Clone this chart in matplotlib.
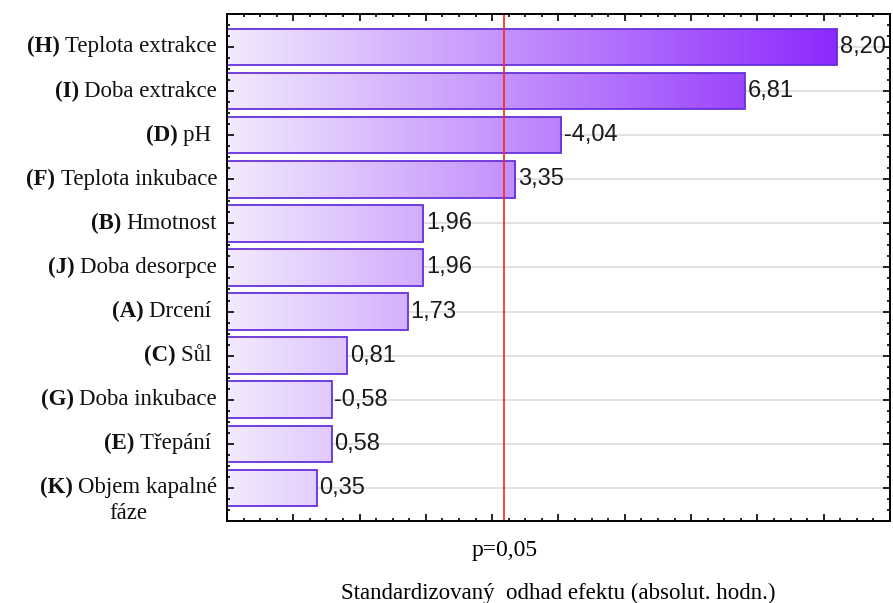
import numpy as np
import matplotlib
matplotlib.use("Agg")
import matplotlib.pyplot as plt
from matplotlib.colors import LinearSegmentedColormap
from matplotlib.ticker import MultipleLocator, NullFormatter
from matplotlib.transforms import Bbox, blended_transform_factory

# Paretův graf standardizovaných efektů
codes = ["(H)", "(I)", "(D)", "(F)", "(B)", "(J)", "(A)", "(C)", "(G)", "(E)", "(K)"]
names = ["Teplota extrakce", "Doba extrakce", "pH ", "Teplota inkubace", "Hmotnost",
         "Doba desorpce", "Drcení ", "Sůl ", "Doba inkubace", "Třepání ", "Objem kapalné"]
name_extra = {"(K)": "fáze"}
effects = [8.20, 6.81, -4.04, 3.35, 1.96, 1.96, 1.73, 0.81, -0.58, 0.58, 0.35]
p_crit = 3.182
p_label = "p=0,05"
xlabel = "Standardizovaný  odhad efektu (absolut. hodn.)"

x0, x1 = -1, 9
serif = ["Liberation Serif", "DejaVu Serif"]
sans = ["Liberation Sans", "DejaVu Sans"]
fs = 16.5

fig = plt.figure(figsize=(8.93, 6.03), dpi=100)
ax = fig.add_axes([0.2542, 0.136, 0.9966 - 0.2542, 0.841])
ax.set_axisbelow(False)

y = np.arange(len(effects))
vals = np.abs(effects)

# vodorovná mřížka za sloupci
for yy in y:
    ax.axhline(yy, color="#dcdcdc", lw=1.2, zorder=0.5)

cmap = LinearSegmentedColormap.from_list("fialova", ["#f2eafe", "#8418fc"])
grad = np.linspace(0, 1, 256).reshape(1, -1)

bars = ax.barh(y, vals - x0, left=x0, height=0.83, facecolor="none",
               edgecolor="#6630dc", linewidth=1.3, zorder=2.2)
for b in bars:
    im = ax.imshow(grad, cmap=cmap, aspect="auto", extent=(x0, x1, len(effects), -1),
                   zorder=2.1, interpolation="bilinear")
    im.set_clip_path(b)

for yy, v, e in zip(y, vals, effects):
    ax.text(v + 0.04, yy, f"{e:.2f}".replace(".", ","), ha="left", va="center",
            fontsize=17, family=sans, color="#1a1a1a", zorder=4)

ax.axvline(p_crit, color="#ff2020", lw=1.2, zorder=2.3)
ax.set_xlim(x0, x1)
ax.set_ylim(len(effects) - 0.25, -0.75)

# popisky faktorů: tučný kód + běžný název
trans = blended_transform_factory(ax.transAxes, ax.transData)
for yy, c, n in zip(y, codes, names):
    reg = ax.text(-0.015, yy, n, transform=trans, ha="right", va="center",
                  fontsize=fs, family=serif, color="#111111")
    bold = ax.annotate(c, xy=(0, 0), xycoords=reg, xytext=(-4, 0),
                       textcoords="offset points", ha="right", va="bottom",
                       fontsize=fs, family=serif, weight="bold", color="#111111")
    if c in name_extra:
        def both(r, a=reg, b=bold):
            return Bbox.union([a.get_window_extent(r), b.get_window_extent(r)])
        ax.annotate(name_extra[c], xy=(0.5, 0), xycoords=both, xytext=(0, -3),
                    textcoords="offset points", ha="center", va="top",
                    fontsize=fs, family=serif, color="#111111")

ax.set_yticks(y)
ax.set_yticklabels([])
ax.yaxis.set_minor_locator(MultipleLocator(0.25))
ax.xaxis.set_major_locator(MultipleLocator(1))
ax.xaxis.set_minor_locator(MultipleLocator(0.25))
ax.xaxis.set_major_formatter(NullFormatter())
ax.tick_params(which="both", direction="in", top=True, right=True, color="black")
ax.tick_params(which="major", length=5, width=1.2)
ax.tick_params(which="minor", length=2.5, width=1.2)
for s in ax.spines.values():
    s.set_linewidth(1.4)
    s.set_zorder(3)

ax.text(p_crit, -0.037, p_label, transform=blended_transform_factory(ax.transData, ax.transAxes),
        ha="center", va="top", fontsize=17, family=serif)
ax.set_xlabel(xlabel, fontsize=fs, family=serif, labelpad=41)

fig.savefig("out.png", dpi=100)
